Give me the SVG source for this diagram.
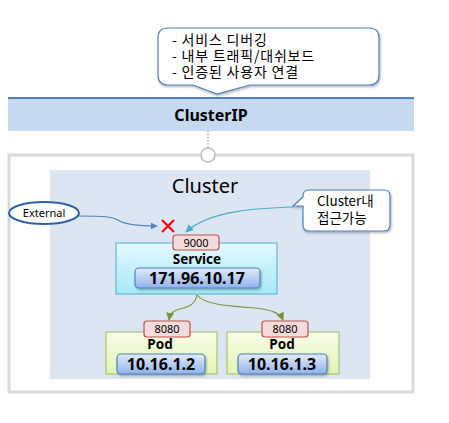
<svg xmlns="http://www.w3.org/2000/svg" width="449" height="423" viewBox="0 0 449 423">
<style>
  text { font-family: "Noto Sans", "Liberation Sans", "Noto Sans CJK KR", sans-serif; fill: #000; }
  .kr { font-family: "Noto Sans CJK KR", "Liberation Sans", sans-serif; }
  .port { fill: #f2dcdb; stroke: #c0504d; stroke-width: 1.2; }
  .porttxt { font-size: 11px; text-anchor: middle; }
  .ip { fill: url(#ipg); stroke: #4f81bd; stroke-width: 1.2; }
  .iptxt { font-size: 16px; font-weight: bold; text-anchor: middle; }
  .pod { fill: url(#podg); stroke: #9bbb59; stroke-width: 1; }
  .title { font-size: 13.5px; font-weight: bold; text-anchor: middle; }
  .call { fill: #fff; stroke: #4f81bd; stroke-width: 1.2; }
  .ctxt { font-size: 14px; letter-spacing: 0.8px; }
</style>
<defs>
  <linearGradient id="svcg" x1="0" y1="0" x2="0" y2="1">
    <stop offset="0" stop-color="#e3f8fd"/>
    <stop offset="1" stop-color="#a6e9f7"/>
  </linearGradient>
  <linearGradient id="ipg" x1="0" y1="0" x2="0" y2="1">
    <stop offset="0" stop-color="#e2ebf8"/>
    <stop offset="1" stop-color="#8fb2ec"/>
  </linearGradient>
  <linearGradient id="podg" x1="0" y1="0" x2="0" y2="1">
    <stop offset="0" stop-color="#f8fde8"/>
    <stop offset="1" stop-color="#e2f5b3"/>
  </linearGradient>
  <marker id="ab" viewBox="0 0 10 10" refX="9" refY="5" markerWidth="7" markerHeight="7" orient="auto" markerUnits="userSpaceOnUse">
    <path d="M0,0 L10,5 L0,10 z" fill="#4f81bd"/>
  </marker>
  <marker id="ac" viewBox="0 0 10 10" refX="9" refY="5" markerWidth="8" markerHeight="8" orient="auto" markerUnits="userSpaceOnUse">
    <path d="M0,0 L10,5 L0,10 z" fill="#4bacc6"/>
  </marker>
  <marker id="ag" viewBox="0 0 10 10" refX="9" refY="5" markerWidth="8" markerHeight="8" orient="auto" markerUnits="userSpaceOnUse">
    <path d="M0,0 L10,5 L0,10 z" fill="#77933c"/>
  </marker>
  <filter id="sh" x="-10%" y="-10%" width="130%" height="140%">
    <feDropShadow dx="1" dy="1.5" stdDeviation="1" flood-color="#000" flood-opacity="0.3"/>
  </filter>
</defs>

<g id="callout-top">
  <path class="call" filter="url(#sh)" d="M168,28 H369 Q379,28 379,38 V75 Q379,85 369,85 H250 L217,94 L193,85 H168 Q158,85 158,75 V38 Q158,28 168,28 Z"/>
  <text class="kr ctxt" x="172" y="45">- 서비스 디버깅</text>
  <text class="kr ctxt" x="172" y="61">- 내부 트래픽/대쉬보드</text>
  <text class="kr ctxt" x="172" y="77">- 인증된 사용자 연결</text>
</g>

<g id="clusterip">
  <rect x="8" y="97" width="406" height="34" fill="#c6d9f1"/>
  <line x1="8" y1="98" x2="414" y2="98" stroke="#4f81bd" stroke-width="2"/>
  <text x="211" y="121" font-size="16" font-weight="bold" text-anchor="middle">ClusterIP</text>
</g>

<g id="outer">
  <rect x="9" y="155" width="404" height="237" fill="#fff" stroke="#d9d9d9" stroke-width="3"/>
</g>

<g id="cluster">
  <rect x="50" y="170" width="320" height="209" fill="#dce6f2"/>
  <text x="205" y="193" font-size="20" text-anchor="middle">Cluster</text>
</g>

<g id="connectors" fill="none">
  <line x1="208" y1="131" x2="208" y2="148" stroke="#808080" stroke-width="1" stroke-dasharray="1.5,1.5"/>
  <circle cx="208" cy="155" r="7" fill="#fff" stroke="#bfbfbf" stroke-width="1.5"/>
  <path d="M79,216 C100,216 110,216 118,220 C125,225 140,226 157,226" stroke="#4f81bd" stroke-width="1.2" marker-end="url(#ab)"/>
  <path d="M294,207 C260,208 210,210 186,232" stroke="#4bacc6" stroke-width="1.2" marker-end="url(#ac)"/>
  <path d="M197,295 C195,305 188,307 180,309 C172,311 170,314 169,320" stroke="#77933c" stroke-width="1.2" marker-end="url(#ag)"/>
  <path d="M197,295 C205,305 230,306 255,308 C272,310 280,313 283,320" stroke="#77933c" stroke-width="1.2" marker-end="url(#ag)"/>
</g>

<g id="blocked">
  <path d="M162,220 L174,232 M174,220 L162,232" stroke="#ff0000" stroke-width="2.2"/>
</g>

<g id="external">
  <ellipse cx="44" cy="213" rx="35" ry="11" fill="#fff" stroke="#2e62a8" stroke-width="2"/>
  <text x="44" y="217" font-size="11" text-anchor="middle">External</text>
</g>

<g id="callout-right">
  <path class="call" filter="url(#sh)" d="M309,190 H384 Q390,190 390,196 V225 Q390,231 384,231 H309 Q303,231 303,225 V206 L293,206 L303,197 V196 Q303,190 309,190 Z"/>
  <text class="kr" x="317" y="206" font-size="13.5">Cluster내</text>
  <text class="kr" x="317" y="223" font-size="13.5">접근가능</text>
</g>

<g id="service">
  <rect x="116" y="243" width="161" height="51" fill="url(#svcg)" stroke="#4bacc6" stroke-width="1"/>
  <rect class="port" x="173" y="235" width="46" height="15" rx="3"/>
  <text class="porttxt" x="196" y="246.5">9000</text>
  <text class="title" x="197" y="264">Service</text>
  <rect class="ip" filter="url(#sh)" x="135" y="268" width="125" height="20" rx="4"/>
  <text class="iptxt" x="197" y="284">171.96.10.17</text>
</g>

<g id="pod1">
  <rect class="pod" x="106" y="332" width="111" height="42"/>
  <rect class="port" x="144" y="321" width="46" height="16" rx="3"/>
  <text class="porttxt" x="167" y="333">8080</text>
  <text class="title" x="160" y="349">Pod</text>
  <rect class="ip" filter="url(#sh)" x="117" y="354" width="88" height="20" rx="4"/>
  <text class="iptxt" x="161" y="370">10.16.1.2</text>
</g>

<g id="pod2">
  <rect class="pod" x="227" y="332" width="112" height="42"/>
  <rect class="port" x="262" y="321" width="46" height="16" rx="3"/>
  <text class="porttxt" x="285" y="333">8080</text>
  <text class="title" x="282" y="349">Pod</text>
  <rect class="ip" filter="url(#sh)" x="238" y="354" width="89" height="20" rx="4"/>
  <text class="iptxt" x="282" y="370">10.16.1.3</text>
</g>
</svg>
